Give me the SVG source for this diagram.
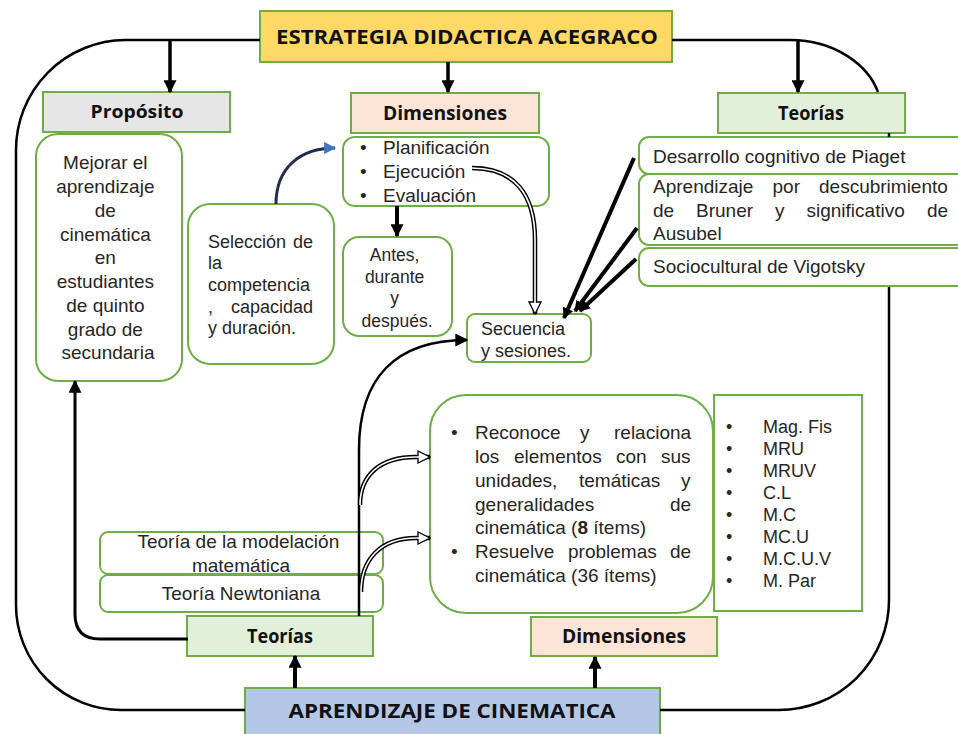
<svg xmlns="http://www.w3.org/2000/svg" width="958" height="734" viewBox="0 0 958 734">
<style>
.bx{fill:#fff;stroke:#70AD47;stroke-width:2}
.hd{stroke:#70AD47;stroke-width:2}
.t{font-family:"Liberation Sans",Arial,sans-serif;fill:#262626}
.h{font-family:"Open Sans","Liberation Sans",sans-serif;font-weight:bold;fill:#111}
.c{text-anchor:middle}
.ln{fill:none;stroke:#000}
.wl{fill:none;stroke:#fff;stroke-width:1.6}
</style>
<defs>
<marker id="ah" viewBox="0 0 10 10" refX="9" refY="5" markerWidth="11" markerHeight="11" markerUnits="userSpaceOnUse" orient="auto"><path d="M0,0 L10,5 L0,10 z" fill="#000"/></marker>
<marker id="ahL" viewBox="0 0 10 10" refX="9" refY="5" markerWidth="13" markerHeight="13" markerUnits="userSpaceOnUse" orient="auto"><path d="M0,0 L10,5 L0,10 z" fill="#000"/></marker>
<marker id="ahB" viewBox="0 0 10 10" refX="9" refY="5" markerWidth="12" markerHeight="12" markerUnits="userSpaceOnUse" orient="auto"><path d="M0,0 L10,5 L0,10 z" fill="#4472C4"/></marker>
<marker id="hol" viewBox="0 0 14 14" refX="13" refY="7" markerWidth="14" markerHeight="14" markerUnits="userSpaceOnUse" orient="auto"><path d="M1,1 L13,7 L1,13 z" fill="#fff" stroke="#000" stroke-width="1.3"/></marker>
</defs>
<rect width="958" height="734" fill="#fff"/>

<g id="title">
<rect x="260" y="11" width="412" height="51" fill="#FFD966" class="hd"/>
<text x="467" y="44" class="h c" font-size="19" textLength="382" lengthAdjust="spacingAndGlyphs">ESTRATEGIA DIDACTICA ACEGRACO</text>
</g>

<g id="proposito">
<rect x="43" y="92" width="187" height="40" fill="#E7E6E6" class="hd"/>
<text x="137" y="118" class="h c" font-size="18" textLength="93" lengthAdjust="spacingAndGlyphs">Propósito</text>
</g>
<g id="mejorar">
<rect x="36" y="134" width="146" height="247" rx="22" class="bx"/>
<text class="t c" font-size="19">
<tspan x="108" y="169">Mejorar el</tspan>
<tspan x="108" y="193">aprendizaje</tspan>
<tspan x="108" y="217">de</tspan>
<tspan x="108" y="241">cinemática</tspan>
<tspan x="108" y="264">en</tspan>
<tspan x="108" y="288">estudiantes</tspan>
<tspan x="108" y="312">de quinto</tspan>
<tspan x="108" y="336">grado de</tspan>
<tspan x="108" y="359">secundaria</tspan>
</text>
</g>

<g id="dimensiones-top">
<rect x="351" y="93" width="188" height="40" fill="#FBE5D6" class="hd"/>
<text x="445" y="120" class="h c" font-size="19" textLength="124" lengthAdjust="spacingAndGlyphs">Dimensiones</text>
</g>
<g id="planificacion">
<rect x="343" y="137" width="206" height="69" rx="12" class="bx"/>
<text class="t" font-size="19">
<tspan x="360" y="154">•</tspan><tspan x="383" y="154">Planificación</tspan>
<tspan x="360" y="178">•</tspan><tspan x="383" y="178">Ejecución</tspan>
<tspan x="360" y="202">•</tspan><tspan x="383" y="202">Evaluación</tspan>
</text>
</g>

<g id="seleccion">
<rect x="188" y="204" width="146" height="160" rx="22" class="bx"/>
<text class="t" font-size="18">
<tspan x="208" y="248">Selección</tspan><tspan x="293" y="248">de</tspan>
<tspan x="208" y="269">la</tspan>
<tspan x="208" y="291">competencia</tspan>
<tspan x="208" y="313">,</tspan><tspan x="231" y="313">capacidad</tspan>
<tspan x="208" y="334">y duración.</tspan>
</text>
</g>

<g id="antes">
<rect x="343" y="237" width="109" height="99" rx="16" class="bx"/>
<text class="t c" font-size="17.5">
<tspan x="397" y="261">Antes,</tspan>
<tspan x="397" y="283">durante</tspan>
<tspan x="397" y="304">y</tspan>
<tspan x="397" y="327">después.</tspan>
</text>
</g>

<g id="secuencia">
<rect x="467" y="314" width="124" height="48" rx="8" class="bx"/>
<text class="t" font-size="18">
<tspan x="481" y="335">Secuencia</tspan>
<tspan x="481" y="357">y sesiones.</tspan>
</text>
</g>

<g id="teorias-top">
<rect x="718" y="93" width="187" height="40" fill="#E2F0D9" class="hd"/>
<text x="811" y="120" class="h c" font-size="19" textLength="66" lengthAdjust="spacingAndGlyphs">Teorías</text>
</g>
<g id="piaget">
<rect x="639" y="137" width="330" height="37" rx="10" class="bx"/>
<text x="653" y="163" class="t" font-size="19">Desarrollo cognitivo de Piaget</text>
</g>
<g id="bruner">
<rect x="639" y="174" width="330" height="71" rx="10" class="bx"/>
<text class="t" font-size="19">
<tspan x="653" y="193">Aprendizaje</tspan><tspan x="772.5" y="193">por</tspan><tspan x="819" y="193">descubrimiento</tspan>
<tspan x="653" y="217">de</tspan><tspan x="696" y="217">Bruner</tspan><tspan x="775" y="217">y</tspan><tspan x="806.5" y="217">significativo</tspan><tspan x="927" y="217">de</tspan>
<tspan x="653" y="240">Ausubel</tspan>
</text>
</g>
<g id="vigotsky">
<rect x="639" y="248" width="330" height="38" rx="10" class="bx"/>
<text x="653" y="273" class="t" font-size="19">Sociocultural de Vigotsky</text>
</g>

<g id="reconoce">
<rect x="430" y="395" width="283" height="218" rx="36" class="bx"/>
<text class="t" font-size="19">
<tspan x="451" y="439">•</tspan><tspan x="475" y="439">Reconoce</tspan><tspan x="580" y="439">y</tspan><tspan x="614" y="439">relaciona</tspan>
<tspan x="475" y="463">los</tspan><tspan x="514" y="463">elementos</tspan><tspan x="616" y="463">con</tspan><tspan x="661" y="463">sus</tspan>
<tspan x="475" y="487">unidades,</tspan><tspan x="579" y="487">temáticas</tspan><tspan x="681" y="487">y</tspan>
<tspan x="475" y="511">generalidades</tspan><tspan x="670" y="511">de</tspan>
<tspan x="475" y="534">cinemática (<tspan font-weight="bold">8</tspan> ítems)</tspan>
<tspan x="451" y="558">•</tspan><tspan x="475" y="558">Resuelve</tspan><tspan x="568" y="558">problemas</tspan><tspan x="670" y="558">de</tspan>
<tspan x="475" y="582">cinemática (36 ítems)</tspan>
</text>
</g>

<g id="magnitudes">
<rect x="714" y="395" width="148" height="216" class="bx"/>
<text class="t" font-size="18">
<tspan x="726" y="433">•</tspan><tspan x="763" y="433">Mag. Fis</tspan>
<tspan x="726" y="455">•</tspan><tspan x="763" y="455">MRU</tspan>
<tspan x="726" y="477">•</tspan><tspan x="763" y="477">MRUV</tspan>
<tspan x="726" y="499">•</tspan><tspan x="763" y="499">C.L</tspan>
<tspan x="726" y="521">•</tspan><tspan x="763" y="521">M.C</tspan>
<tspan x="726" y="543">•</tspan><tspan x="763" y="543">MC.U</tspan>
<tspan x="726" y="565">•</tspan><tspan x="763" y="565">M.C.U.V</tspan>
<tspan x="726" y="587">•</tspan><tspan x="763" y="587">M. Par</tspan>
</text>
</g>

<g id="modelacion">
<rect x="100" y="532" width="283" height="42" rx="8" class="bx"/>
<text class="t c" font-size="19">
<tspan x="241" y="548">Teoría de la modelación</tspan>
<tspan x="241" y="572">matemática</tspan>
</text>
</g>
<g id="newtoniana">
<rect x="100" y="575" width="283" height="37" rx="8" class="bx"/>
<text x="241" y="600" class="t c" font-size="19">Teoría Newtoniana</text>
</g>

<g id="teorias-bottom">
<rect x="187" y="616" width="186" height="40" fill="#E2F0D9" class="hd"/>
<text x="280" y="643" class="h c" font-size="19" textLength="66" lengthAdjust="spacingAndGlyphs">Teorías</text>
</g>
<g id="dimensiones-bottom">
<rect x="531" y="617" width="186" height="39" fill="#FBE5D6" class="hd"/>
<text x="624" y="643" class="h c" font-size="19" textLength="124" lengthAdjust="spacingAndGlyphs">Dimensiones</text>
</g>
<g id="aprendizaje">
<rect x="245" y="688" width="415" height="52" fill="#B4C7E7" class="hd"/>
<text x="452" y="718" class="h c" font-size="20" textLength="327" lengthAdjust="spacingAndGlyphs">APRENDIZAJE DE CINEMATICA</text>
</g>

<g id="connectors">
<path class="ln" stroke-width="2.5" d="M260,40 H125 A110,110 0 0 0 16,150 V605 A105,105 0 0 0 121,710 H245"/>
<path class="ln" stroke-width="2.5" d="M672,40 H790 C835,40 868,65 878,92"/>
<path class="ln" stroke-width="2.5" d="M889,133 V137 M889,287 V600 A110,110 0 0 1 779,710 H660"/>
<path class="ln" stroke-width="3.5" marker-end="url(#ahL)" d="M170,40 V92"/>
<path class="ln" stroke-width="3.5" marker-end="url(#ahL)" d="M448,62 V92"/>
<path class="ln" stroke-width="3.5" marker-end="url(#ahL)" d="M798,40 V92"/>
<path class="ln" stroke-width="4" marker-end="url(#ahL)" d="M397,206 V236"/>
<path class="ln" stroke-width="4" marker-end="url(#ahL)" d="M295,688 V656"/>
<path class="ln" stroke-width="4" marker-end="url(#ahL)" d="M595,688 V657"/>
<path class="ln" stroke-width="3" marker-end="url(#ahL)" d="M188,639 H100 Q75,639 75,614 V381"/>
<path fill="none" stroke="#1F2D4E" stroke-width="3" marker-end="url(#ahB)" d="M276,204 C276,168 300,148 335,148"/>
<path class="ln" stroke-width="4.5" marker-end="url(#hol)" d="M472,168 C515,168 535,195 535,240 V314"/>
<path class="wl" d="M472,168 C515,168 535,195 535,240 V303"/>
<path class="ln" stroke-width="4" marker-end="url(#ah)" d="M634,158 L564,318"/>
<path class="ln" stroke-width="4" marker-end="url(#ah)" d="M637,228 L575,311"/>
<path class="ln" stroke-width="4" marker-end="url(#ah)" d="M636,259 L580,311"/>
<path class="ln" stroke-width="2.5" marker-end="url(#ahL)" d="M359,616 V450 C359,378 395,340 467,340"/>
<path class="ln" stroke-width="4.5" marker-end="url(#hol)" d="M360,505 C360,475 380,457 416,457 H430"/>
<path class="wl" d="M360,505 C360,475 380,457 416,457 H419"/>
<path class="ln" stroke-width="4.5" marker-end="url(#hol)" d="M361,592 C361,560 380,538 416,538 H430"/>
<path class="wl" d="M361,592 C361,560 380,538 416,538 H419"/>
</g>
</svg>
